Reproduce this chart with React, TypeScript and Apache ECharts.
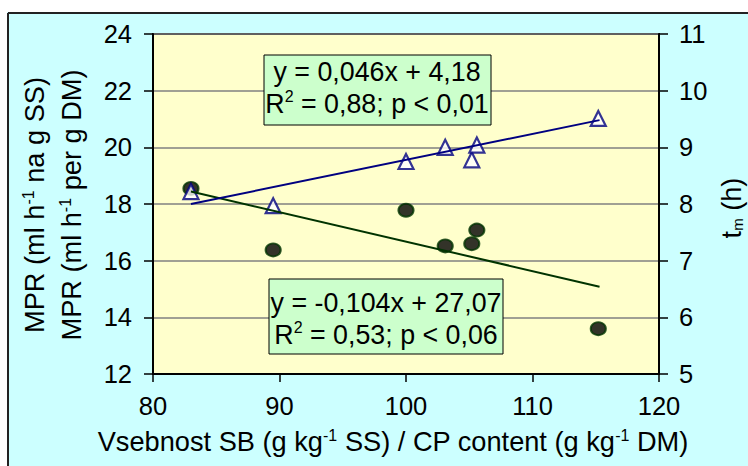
import React, { useEffect, useRef } from "react";
import * as echarts from "echarts";

// CP content (g/kg DM)
const cpContent = [83.0, 89.5, 100.0, 103.1, 105.2, 105.6, 115.2];
// MPR (left axis)
const mprValues = [18.55, 16.38, 17.78, 16.52, 16.6, 17.08, 13.6];
// t_m (right axis)
const tmValues = [8.22, 7.97, 8.75, 9.0, 8.78, 9.04, 9.51];
// trend line end points
const trendX = [83.0, 115.3];
const mprTrend = [18.44, 15.08];
const tmTrend = [8.0, 9.48];

const eqTm = ["y = 0,046x + 4,18", "= 0,88; p < 0,01"];
const eqMpr = ["y = -0,104x + 27,07", "= 0,53; p < 0,06"];

const FONT = "'Liberation Sans', Arial, sans-serif";
const FS_TICK = 25.5;
const FS_TITLE = 27.2;
const FS_EQ = 26.8;

export default function App() {
  const ref = useRef<HTMLDivElement>(null);
  useEffect(() => {
    if (!ref.current) return;
    const chart = echarts.init(ref.current, undefined, { renderer: "svg" });
    const sup = { fontSize: 16, fontFamily: FONT, color: "#000", verticalAlign: "top", lineHeight: 15 };
    const richEq = {
      s: sup,
      n: { fontSize: FS_EQ, fontFamily: FONT, color: "#000", lineHeight: 32 },
    };
    const richTitle = {
      s: sup,
      n: { fontSize: FS_TITLE, fontFamily: FONT, color: "#000", lineHeight: 28 },
    };
    const eqBox = (x: number, y: number, w: number, h: number, cx: number, cy: number, lines: string[]) => ({
      type: "group",
      z: 100,
      children: [
        {
          type: "rect",
          z: 100,
          shape: { x, y, width: w, height: h },
          style: { fill: "#CCFFCC", stroke: "#000", lineWidth: 1 },
        },
        {
          type: "text",
          z: 101,
          x: cx,
          y: cy,
          style: {
            text: `{n|${lines[0]}}\n{n|R}{s|2}{n| ${lines[1]}}`,
            rich: richEq,
            align: "center",
            verticalAlign: "middle",
            fill: "#000",
          },
        },
      ],
    });
    const tickLabel = (margin: number) => ({ color: "#000", fontSize: FS_TICK, fontFamily: FONT, margin });
    chart.setOption({
      animation: false,
      backgroundColor: "#CCFFFF",
      grid: {
        left: 153,
        top: 34,
        width: 506,
        height: 340,
        show: true,
        backgroundColor: "#FFFFCC",
        borderColor: "#000",
        borderWidth: 2,
      },
      xAxis: {
        type: "value",
        min: 80,
        max: 120,
        interval: 10,
        axisLine: { show: true, onZero: false, lineStyle: { color: "#000", width: 2 } },
        axisTick: { show: true, length: 8, lineStyle: { color: "#000", width: 1.5 } },
        splitLine: { show: false },
        axisLabel: tickLabel(19),
      },
      yAxis: [
        {
          type: "value",
          min: 12,
          max: 24,
          interval: 2,
          axisLine: { show: true, lineStyle: { color: "#000", width: 2 } },
          axisTick: { show: true, length: 9, lineStyle: { color: "#000", width: 1.5 } },
          splitLine: { show: true, lineStyle: { color: "#808080", width: 1.5 } },
          axisLabel: tickLabel(21),
        },
        {
          type: "value",
          position: "right",
          min: 5,
          max: 11,
          interval: 1,
          axisLine: { show: true, lineStyle: { color: "#000", width: 2 } },
          axisTick: { show: true, length: 9, lineStyle: { color: "#000", width: 1.5 } },
          splitLine: { show: false },
          axisLabel: tickLabel(20),
        },
      ],
      series: [
        {
          type: "scatter",
          yAxisIndex: 0,
          z: 3,
          symbol: "circle",
          symbolSize: [15, 13],
          itemStyle: { color: "#000", borderColor: "#003300", borderWidth: 2 },
          data: cpContent.map((x, i) => [x, mprValues[i]]),
        },
        {
          type: "scatter",
          yAxisIndex: 1,
          z: 4,
          symbol: "triangle",
          symbolSize: [15, 15],
          itemStyle: { color: "#fff", borderColor: "#000080", borderWidth: 2.2 },
          data: cpContent.map((x, i) => [x, tmValues[i]]),
        },
        {
          type: "line",
          yAxisIndex: 0,
          z: 5,
          symbol: "none",
          lineStyle: { color: "#003300", width: 2 },
          data: trendX.map((x, i) => [x, mprTrend[i]]),
        },
        {
          type: "line",
          yAxisIndex: 1,
          z: 6,
          symbol: "none",
          lineStyle: { color: "#000080", width: 2 },
          data: trendX.map((x, i) => [x, tmTrend[i]]),
        },
      ],
      graphic: [
        { type: "rect", shape: { x: 0, y: 0, width: 748, height: 12 }, style: { fill: "#fff" } },
        { type: "rect", shape: { x: 0, y: 0, width: 7, height: 466 }, style: { fill: "#fff" } },
        { type: "line", shape: { x1: 8, y1: 13, x2: 748, y2: 13 }, style: { stroke: "#222", lineWidth: 2 } },
        { type: "line", shape: { x1: 8, y1: 13, x2: 8, y2: 466 }, style: { stroke: "#222", lineWidth: 2 } },
        eqBox(264, 55, 227, 70, 377, 88, eqTm),
        eqBox(269, 279, 234, 75, 386, 319, eqMpr),
        {
          type: "text",
          x: 393,
          y: 441,
          style: {
            text: "{n|Vsebnost SB (g kg}{s|-1}{n| SS) / CP content (g kg}{s|-1}{n| DM)}",
            rich: richTitle,
            align: "center",
            verticalAlign: "middle",
          },
        },
        {
          type: "text",
          x: 34,
          y: 205,
          rotation: Math.PI / 2,
          style: {
            text: "{n|MPR (ml h}{s|-1}{n| na g SS)}",
            rich: richTitle,
            align: "center",
            verticalAlign: "middle",
          },
        },
        {
          type: "text",
          x: 71,
          y: 205,
          rotation: Math.PI / 2,
          style: {
            text: "{n|MPR (ml h}{s|-1}{n| per g DM)}",
            rich: richTitle,
            align: "center",
            verticalAlign: "middle",
          },
        },
        {
          type: "text",
          x: 731,
          y: 208,
          rotation: Math.PI / 2,
          style: {
            text: "{n|t}{b|m}{n| (h)}",
            rich: {
              n: richTitle.n,
              b: { fontSize: 15, fontFamily: FONT, color: "#000", verticalAlign: "bottom", lineHeight: 15 },
            },
            align: "center",
            verticalAlign: "middle",
          },
        },
      ],
    });
    return () => chart.dispose();
  }, []);
  return (
    <div
      ref={ref}
      style={{ position: "fixed", left: 0, top: 0, width: 748, height: 466, background: "#fff" }}
    />
  );
}
